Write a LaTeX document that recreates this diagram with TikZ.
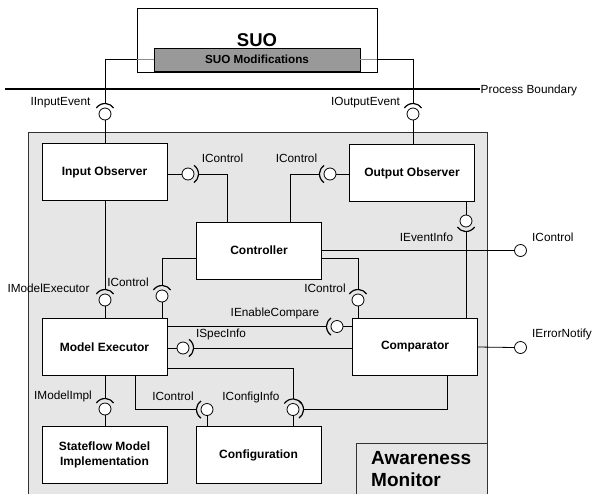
\documentclass[tikz,border=0pt]{standalone}
\usepackage{fontspec}
\setmainfont{Liberation Sans}
\definecolor{amgray}{RGB}{230,230,230}
\definecolor{modgray}{RGB}{153,153,153}
% socket arc round a ball: ball, direction it faces, name of its tip
\newcommand{\sock}[3]{%
\draw[socket] (#1.center) ++({-#2-55}:\Rs) arc[start angle={-#2-55}, end angle={-#2+55}, radius=\Rs];
\path (#1.center) ++({-#2}:\Rs) coordinate (#3);}

\begin{document}
\begin{tikzpicture}[x=1pt,y=-1pt,
  box/.style={draw, fill=white, line width=0.8pt, minimum width=125pt, minimum height=57pt, align=center, font=\fontsize{12}{15}\selectfont\bfseries},
  ball/.style={draw, fill=white, circle, minimum size=12pt, inner sep=0pt, line width=0.8pt},
  socket/.style={line width=1.2pt},
  wire/.style={line width=0.8pt},
  lbl/.style={font=\fontsize{11.8}{13}\selectfont, inner sep=0pt, text height=8.4pt, text depth=0pt}]
\def\Rs{10.5}

\useasboundingbox (0,0) rectangle (594,493);
\clip (0,0) rectangle (594,493);

%awareness monitor
\node[draw=black!80, fill=amgray, line width=0.8pt, minimum width=459pt, minimum height=378pt, anchor=north west] (am) at (28,132) {};
\node[draw=black!80, line width=0.8pt, minimum width=131pt, minimum height=60pt, anchor=north west] (amlbl) at (356,443) {};
\node[font=\fontsize{19}{22}\selectfont\bfseries, align=left, anchor=west, inner sep=0pt] (amtxt) at (371,469) {Awareness\\Monitor};

%suo
\node[draw, fill=white, line width=0.8pt, minimum width=240pt, minimum height=64pt, font=\fontsize{18.5}{20}\selectfont\bfseries] (suo) at (257,40) {SUO};
\node[draw, fill=modgray, line width=0.8pt, minimum width=206pt, minimum height=23pt, font=\fontsize{11.7}{13}\selectfont\bfseries] (suomod) at (257,59.5) {SUO Modifications};

%process boundary
\coordinate (pbl) at (5,89);
\node[lbl, anchor=west, inner sep=0.5pt] (pb) at (480,89) {Process Boundary};
\draw[line width=2pt] (pbl) -- (pb.west);

%components
\node[box] (inobs) at (104.5,172) {Input Observer};
\node[box] (outobs) at (412,173) {Output Observer};
\node[box] (ctrl) at (259,250.5) {Controller};
\node[box] (modex) at (104.5,347) {Model Executor};
\node[box] (comp) at (415,347) {Comparator};
\node[box] (sfimpl) at (104.5,455) {Stateflow Model\\Implementation};
\node[box] (config) at (258.5,455) {Configuration};

%balls
\node[ball] (bIIn) at (105,114) {};
\node[ball] (bIOut) at (413,114) {};
\node[ball] (bCin) at (188,174) {};
\node[ball] (bCout) at (330,174) {};
\node[ball] (bEv) at (466,221) {};
\node[ball] (bCext) at (520.5,250.5) {};
\node[ball] (bCcmp) at (358,300) {};
\node[ball] (bCme) at (162,296) {};
\node[ball] (bME) at (105,300) {};
\node[ball] (bEn) at (337,326.5) {};
\node[ball] (bSpec) at (183,348) {};
\node[ball] (bImpl) at (105,409) {};
\node[ball] (bCcfg) at (207,409.5) {};
\node[ball] (bCfg) at (293,409.5) {};
\node[ball] (bErr) at (520.5,347.5) {};

%sockets
\sock{bIIn}{90}{tIIn}
\sock{bIOut}{90}{tIOut}
\sock{bCin}{0}{tCin}
\sock{bCout}{180}{tCout}
\sock{bEv}{270}{tEv}
\sock{bCcmp}{90}{tCcmp}
\sock{bCme}{90}{tCme}
\sock{bME}{90}{tME}
\sock{bEn}{180}{tEn}
\sock{bSpec}{0}{tSpec}
\sock{bImpl}{90}{tImpl}
\sock{bCcfg}{180}{tCcfg}
\sock{bCfg}{90}{tCfgA}
\sock{bCfg}{0}{tCfgB}

%wires
\draw[wire] (suomod.west) -| (tIIn);
\draw[wire] (suomod.east) -| (tIOut);
\draw[wire, black!45] (suo.west |- suomod.west) -- (suomod.west);
\draw[wire, black!45] (suomod.east) -- (suo.east |- suomod.east);
\draw[wire] (bIIn.south) -- (bIIn.south |- inobs.north);
\draw[wire] (bIOut.south) -- (bIOut.south |- outobs.north);
\draw[wire] (inobs.east |- bCin) -- (bCin.west);
\draw[wire] (tCin) -| ([xshift=-32pt]ctrl.north);
\draw[wire] (bCout.east) -- (outobs.west |- bCout);
\draw[wire] (tCout) -| ([xshift=31pt]ctrl.north);
\draw[wire] (bEv.north) -- (bEv.north |- outobs.south);
\draw[wire] (tEv) -- (tEv |- comp.north);
\draw[wire] (ctrl.east) -- (bCext.west);
\draw[wire] ([yshift=-7.5pt]ctrl.east) -| (tCcmp);
\draw[wire] (bCcmp.south) -- (bCcmp.south |- comp.north);
\draw[wire] ([yshift=-7.5pt]ctrl.west) -| (tCme);
\draw[wire] (bCme.south) -- (bCme.south |- modex.north);
\draw[wire] (inobs.south -| bME) -- (tME);
\draw[wire] (bME.south) -- (bME.south |- modex.north);
\draw[wire] (modex.east |- tEn) -- (tEn);
\draw[wire] (bEn.east) -- (comp.west |- bEn);
\draw[wire] (modex.east |- bSpec) -- (bSpec.west);
\draw[wire] (tSpec) -- (comp.west |- tSpec);
\draw[wire] (modex.south -| bImpl) -- (tImpl);
\draw[wire] (bImpl.south) -- (bImpl.south |- sfimpl.north);
\draw[wire] ([xshift=30.5pt]modex.south) |- (tCcfg);
\draw[wire] (bCcfg.south) -- (bCcfg.south |- config.north);
\draw[wire] ([yshift=-21pt]modex.east) -| (tCfgA);
\draw[wire] ([xshift=32pt]comp.south) |- (tCfgB);
\draw[wire] (bCfg.south) -- (bCfg.south |- config.north);
\draw[wire] (comp.east) -- (bErr.west);

%labels
\node[lbl] (lIIn) at (60.5,101) {IInputEvent};
\node[lbl] (lIOut) at (365.5,101) {IOutputEvent};
\node[lbl] (lCin) at (222.5,158) {IControl};
\node[lbl] (lCout) at (296.5,158) {IControl};
\node[lbl] (lEv) at (426.5,237) {IEventInfo};
\node[lbl, anchor=west] (lCext) at (532,237.5) {IControl};
\node[lbl] (lCcmp) at (325,288) {IControl};
\node[lbl] (lCme) at (128,282.5) {IControl};
\node[lbl] (lME) at (48.5,288.5) {IModelExecutor};
\node[lbl] (lEn) at (275,312) {IEnableCompare};
\node[lbl] (lSpec) at (221,333) {ISpecInfo};
\node[lbl, anchor=west] (lErr) at (532,333) {IErrorNotify};
\node[lbl] (lImpl) at (63,395) {IModelImpl};
\node[lbl] (lCcfg) at (173,396) {IControl};
\node[lbl] (lCfg) at (251,396) {IConfigInfo};

\end{tikzpicture}
\end{document}
